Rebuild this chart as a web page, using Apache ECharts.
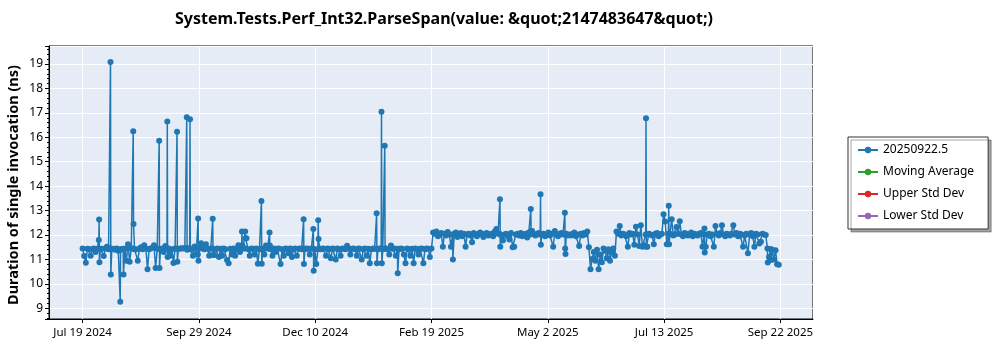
<!DOCTYPE html>
<html>
<head>
<meta charset="utf-8">
<script src="https://cdn.jsdelivr.net/npm/echarts@6/dist/echarts.min.js"></script>
<style>
html,body{margin:0;padding:0;background:#fff;}
#chart{width:1000px;height:350px;}
</style>
</head>
<body>
<div id="chart"></div>
<script>
// ---- DATA ----
const titleText = 'System.Tests.Perf_Int32.ParseSpan(value: &quot;2147483647&quot;)';
const yAxisTitle = 'Duration of single invocation (ns)';
const seriesNames = ['20250922.5', 'Moving Average', 'Upper Std Dev', 'Lower Std Dev'];
const seriesColors = ['#1f77b4', '#2ca02c', '#d62728', '#9467bd'];
const firstDate = [2024, 6, 19, 19, 12]; // UTC Y, M(0-based), D, h, m of first run (day 0)
const monthNames = ['Jan','Feb','Mar','Apr','May','Jun','Jul','Aug','Sep','Oct','Nov','Dec'];
const xTickDays = 71.6667; // spacing of date ticks in days

// one entry per day starting at firstDate; an inner list = several runs on that day
const valuesJul2024toFeb2025 = [
 11.45, 11.14, 10.86, 11.44, 11.43, 11.15, 11.42, 11.45, 11.30, 11.44,
 [11.80, 12.63, 10.88], 11.44, 11.44, 11.14, 11.45, 11.52, 11.42, [11.45, 19.08, 10.38], 11.44, 11.44,
 11.40, 11.45, 11.35, [11.42, 9.27, 11.40], 11.42, [11.44, 10.38], 11.44, 10.95, 11.62, 10.90,
 11.45, [11.45, 16.25, 12.45], 11.42, 11.42, 10.95, 11.44, 11.50, 11.42, 11.58, 11.45,
 10.60, 11.42, 11.45, 11.48, 11.58, 10.65, 11.44, [11.44, 15.86, 10.65], 11.42, 11.45,
 11.30, 11.55, [11.45, 16.65, 11.10], 11.45, 11.15, 11.42, 10.85, 11.45, [11.45, 16.23, 10.90], 11.44,
 11.44, 11.46, 11.45, 11.47, [11.47, 16.82, 11.40], 11.45, [11.45, 16.74, 11.42], 11.42, 11.15, 11.53,
 11.20, [11.20, 12.68, 10.95], 11.45, 11.66, 11.45, 11.42, 11.62, 11.44, 11.15, 11.45,
 [11.45, 12.67, 11.18], 11.18, 11.42, 11.45, 11.10, 11.44, 11.15, 11.45, 11.42, 10.98,
 10.84, 11.44, 11.20, 11.45, 11.15, 11.42, 11.58, 11.30, [11.45, 12.14, 11.58], 11.45,
 [11.45, 12.14, 11.87], 11.87, 11.42, 11.15, 11.45, 11.44, 11.20, 11.45, 10.82, 11.42,
 [11.44, 13.39, 10.82], 11.44, 11.20, 11.57, 11.45, [11.45, 12.10, 11.57], 11.42, 11.15, 11.45, 11.30,
 11.44, 11.45, 10.81, 11.42, 11.15, 11.45, 11.44, 11.25, 11.45, 11.10,
 11.42, 11.45, 11.15, 11.44, 11.45, 11.42, [11.45, 12.65, 10.81], 11.42, 11.45, 11.44,
 11.20, 11.45, [11.45, 12.25, 10.54], 11.42, 10.81, [11.42, 12.60, 11.84], 11.45, 11.42, 11.45, 11.44,
 11.15, 11.45, 11.42, 11.05, 11.45, 11.44, 11.00, 11.45, 11.42, 11.15,
 11.45, 11.44, 11.42, 11.56, 11.45, 11.20, 11.44, 11.45, 11.42, 11.15,
 11.45, 11.44, 11.00, 11.42, 11.45, 11.15, 11.44, 10.84, 11.42, 11.45,
 11.44, [11.44, 12.89, 10.84], 11.42, 11.45, [11.45, 17.05, 10.84], 11.42, [11.44, 15.66, 11.45], 11.45, 11.42, 11.20,
 11.57, 11.44, 11.45, 11.15, [11.44, 10.43], 11.42, 11.45, 11.44, 11.20, 10.84,
 11.45, 11.42, 11.15, 11.44, 10.84, 11.45, 11.42, 11.20, 11.44, 11.45,
 10.84, 11.42, 11.45, 11.44, 11.10, 11.45
];
const valuesFeb2025toMay2025 = [
 12.10, 12.05, 12.14, 11.95, 12.02, 12.08, 11.52, 12.05, 11.98, 12.12,
 12.02, 11.52, [12.02, 11.00], 12.05, 12.10, 11.92, 12.02, 12.08, 11.95, 12.05,
 11.52, 12.02, 12.05, 11.98, 11.70, 12.08, 12.02, 11.95, 12.05, 12.10,
 12.02, 11.92, 12.05, 12.08, 11.98, 12.02, 12.05, 11.95, 12.14, 12.25,
 12.05, [12.05, 13.46, 11.52], 11.98, 11.77, 12.02, 12.05, 11.95, 11.82, 12.08, 11.50,
 11.52, 12.02, 12.05, 11.98, 12.08, 11.95, 12.02, 12.05, 11.90, 12.10,
 [12.02, 13.06, 12.16], 12.16, 12.05, 11.98, 12.02, 12.08, [12.02, 13.67, 11.60], 12.02, 12.05, 11.95,
 12.02, 12.10, 11.98, 12.05, 11.52, 12.16, 12.02, 11.95, 12.05, 12.08,
 12.02, [12.02, 12.91, 11.45, 11.22], 12.05, 11.98, 12.02, 11.98, 12.05, 12.10, 11.95, 12.02,
 11.55, 12.05, 11.98, 12.08, 12.02, 12.14
];
const valuesMay2025toJun2025 = [
 11.50, 10.60, 11.02, 11.30, 10.95, 11.40, 10.60, 11.20, 10.88, 11.45,
 11.35, 11.05, 11.42, 10.95, 11.30, 11.45, 11.15
];
const valuesJun2025toSep2025 = [
 12.14, 12.05, 12.37, 11.98, 12.05, 12.02, 11.95, 11.52, 12.08, 12.02,
 12.05, 11.60, 12.34, 12.02, 11.55, 12.40, 11.52, 11.58, [12.02, 16.78, 11.52], 11.52,
 12.05, 12.02, 11.98, 11.62, 12.05, 12.08, 11.95, 12.02, 12.05, 12.85,
 12.55, 11.62, [12.05, 13.20, 11.62], 12.05, 12.65, 11.98, 12.02, 12.33, 12.05, 12.56,
 12.02, 11.95, 12.08, 12.05, 11.98, 12.02, 12.10, 11.95, 12.05, 12.02,
 11.98, 12.05, 12.08, 11.52, [12.02, 12.27, 11.28], 11.52, 12.02, 12.05, 11.95, 12.02,
 11.52, 12.37, 12.05, 11.98, 12.08, 12.40, 12.02, 11.95, 12.05, 12.02,
 11.98, 12.05, 12.40, 12.02, 12.08, 11.95, 12.05, 12.02, 11.52, 11.98,
 12.05, 11.25, 12.02, 12.08, 11.95, 11.52, 12.05, 12.02, 11.65, 11.72,
 12.05, 12.02, 12.00
];
const valuesSep2025 = [
 [11.45, 10.87], 11.10, [11.43, 10.98], 11.40, 11.00, 11.38, 10.80, 10.78
];

// ---- BUILD ----
const allDays = [].concat(valuesJul2024toFeb2025, valuesFeb2025toMay2025,
  valuesMay2025toJun2025, valuesJun2025toSep2025, valuesSep2025);
const mainData = [];
allDays.forEach((entry, day) => {
  const runs = Array.isArray(entry) ? entry : [entry];
  runs.forEach((v, k) => mainData.push([day + k * 0.2, v]));
});
const originMs = Date.UTC(firstDate[0], firstDate[1], firstDate[2], firstDate[3], firstDate[4]);
function fmtDay(u) {
  const d = new Date(originMs + u * 86400000);
  return monthNames[d.getUTCMonth()] + ' ' + d.getUTCDate() + ' ' + d.getUTCFullYear();
}

const FONT = 'Noto Sans';
const chart = echarts.init(document.getElementById('chart'), null, {renderer: 'canvas'});
const series = seriesNames.map((name, k) => ({
  name: name,
  type: 'line',
  data: k === 0 ? mainData : [],
  symbol: 'circle',
  symbolSize: 6,
  showSymbol: true,
  lineStyle: {width: 1.5, color: seriesColors[k]},
  itemStyle: {color: seriesColors[k]},
  emphasis: {disabled: true},
  z: 3
}));

chart.setOption({
  animation: false,
  backgroundColor: '#ffffff',
  textStyle: {fontFamily: FONT},
  grid: {
    left: 49, right: 187, top: 46, bottom: 31,
    show: true, backgroundColor: '#e5ecf6', borderColor: '#000', borderWidth: 1
  },
  graphic: [
    {type: 'text', x: 444, y: 19, style: {text: titleText, fontFamily: FONT, fontSize: 16, fontWeight: 'bold', fill: '#000', align: 'center', verticalAlign: 'middle'}},
    {type: 'text', x: 14, y: 185, rotation: Math.PI / 2, style: {text: yAxisTitle, fontFamily: FONT, fontSize: 14.5, fontWeight: 'bold', fill: '#000', align: 'center', verticalAlign: 'middle'}}
  ],
  legend: {
    orient: 'vertical',
    left: 848, top: 137,
    data: seriesNames,
    itemWidth: 20, itemHeight: 8, itemGap: 8,
    padding: [6, 14, 6, 9],
    backgroundColor: '#fff',
    borderColor: '#333', borderWidth: 1,
    shadowColor: 'rgba(0,0,0,0.35)', shadowBlur: 0, shadowOffsetX: 3, shadowOffsetY: 3,
    textStyle: {fontFamily: FONT, fontSize: 12, color: '#000', lineHeight: 14},
    selectedMode: false
  },
  xAxis: {
    type: 'value',
    min: -20.7, max: 450.1,
    minInterval: xTickDays, maxInterval: xTickDays,
    axisLine: {show: true, onZero: false, lineStyle: {color: '#000', width: 1}},
    axisTick: {show: true, inside: false, length: 4, lineStyle: {color: '#000'}},
    axisLabel: {show: true, showMinLabel: false, showMaxLabel: false, formatter: fmtDay, fontFamily: FONT, fontSize: 11.5, color: '#000', margin: 8},
    splitLine: {show: true, lineStyle: {color: '#ffffff', width: 1}}
  },
  yAxis: {
    type: 'value',
    min: 8.56, max: 19.74,
    minInterval: 1, maxInterval: 1,
    axisLine: {show: true, onZero: false, lineStyle: {color: '#000', width: 1}},
    axisTick: {show: true, inside: false, length: 4, lineStyle: {color: '#000'}},
    minorTick: {show: true, splitNumber: 5, length: 2, lineStyle: {color: '#000'}},
    axisLabel: {show: true, showMinLabel: false, showMaxLabel: false, fontFamily: FONT, fontSize: 12, color: '#000', margin: 6},
    splitLine: {show: true, lineStyle: {color: '#ffffff', width: 1}},
    minorSplitLine: {show: false}
  },
  series: series
});
</script>
</body>
</html>
